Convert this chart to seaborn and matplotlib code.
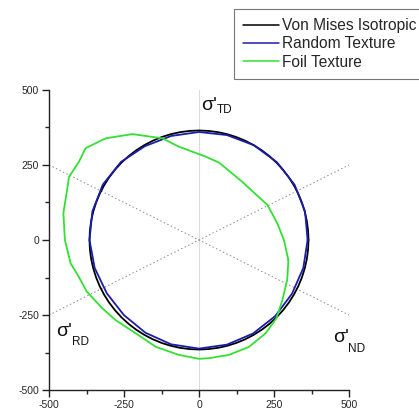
import numpy as np
import pandas as pd
import matplotlib
matplotlib.use("Agg")
import matplotlib.pyplot as plt
import seaborn as sns

# ---- data (pi-plane yield loci, MPa) ----
series_names = ["Von Mises Isotropic", "Random Texture", "Foil Texture"]
series_colors = ["#000000", "#1c1caa", "#33e033"]

# Von Mises isotropic locus: circle of constant radius
von_mises_radius = 365.0
von_mises_angles_deg = list(range(0, 360, 5))

# Random texture locus: radius read every 15 degrees
random_angles_deg = [0, 15, 30, 45, 60, 75, 90, 105, 120, 135, 150, 165,
                     180, 195, 210, 225, 240, 255, 270, 285, 300, 315, 330, 345]
random_radii = [362, 366, 368, 367, 365, 362, 360, 359, 361, 368, 370, 368,
                365, 360, 355, 354, 357, 360, 362, 361, 360, 359, 358, 360]

# Foil texture locus: points read counter-clockwise
foil_x = [298, 283, 261, 228, 144, 67, 22, -67, -122, -222, -311, -378, -400,
          -433, -452, -447, -428, -405, -374, -322, -278, -211, -144, -67, 0,
          33, 100, 167, 222, 258, 278, 294]
foil_y = [-67, 0, 56, 117, 194, 258, 278, 311, 339, 353, 339, 306, 261,
          211, 89, 0, -78, -115, -172, -228, -267, -311, -356, -383, -396,
          -394, -383, -356, -311, -261, -200, -133]

# Principal stress axes projected onto the plane
axis_ends_x = [-500, 500]
diag_up_y = [-250, 250]
diag_down_y = [250, -250]

tick_values = [-500, -250, 0, 250, 500]
minor_tick_values = [-375, -125, 125, 375]

# stress axis labels: subscript, anchor (x, y), subscript offset in pixels
axis_labels = [
    ("TD", 7, 433, 16, -3),
    ("RD", -477, -320, 16, -9),
    ("ND", 447, -340, 15, -10),
]


def closed(xs, ys):
    return list(xs) + [xs[0]], list(ys) + [ys[0]]


vm_t = np.deg2rad(von_mises_angles_deg)
vm_x, vm_y = closed(von_mises_radius * np.cos(vm_t), von_mises_radius * np.sin(vm_t))
rt_t = np.deg2rad(random_angles_deg)
rt_r = np.array(random_radii, dtype=float)
rt_x, rt_y = closed(rt_r * np.cos(rt_t), rt_r * np.sin(rt_t))
ft_x, ft_y = closed(foil_x, foil_y)

frames = []
for name, xs, ys in zip(series_names, [vm_x, rt_x, ft_x], [vm_y, rt_y, ft_y]):
    frames.append(pd.DataFrame({"x": xs, "y": ys, "series": name}))
df = pd.concat(frames, ignore_index=True)

# ---- styling ----
sns.set_style("ticks")
plt.rcParams["font.family"] = ["Liberation Sans", "DejaVu Sans"]
plt.rcParams["axes.unicode_minus"] = False

DPI = 100
PX = 72 / DPI  # points per pixel

fig = plt.figure(figsize=(4.19, 4.11), dpi=DPI)
ax = fig.add_axes([49 / 419, 21 / 411, 300 / 419, 300 / 411])

# reference axes
ax.plot([0, 0], [-500, 500], color="#dcdcdc", lw=0.8, zorder=1)
ax.plot(axis_ends_x, diag_up_y, color="#888888", lw=0.7, ls=(0, (1.5, 2.5)), zorder=1)
ax.plot(axis_ends_x, diag_down_y, color="#888888", lw=0.7, ls=(0, (1.5, 2.5)), zorder=1)

sns.lineplot(data=df, x="x", y="y", hue="series", hue_order=series_names,
             palette=series_colors, sort=False, estimator=None, units="series",
             lw=1.3, ax=ax, legend=True)

ax.set_xlim(-500, 500)
ax.set_ylim(-500, 500)
ax.set_xticks(tick_values)
ax.set_yticks(tick_values)
ax.set_xticks(minor_tick_values, minor=True)
ax.set_yticks(minor_tick_values, minor=True)
ax.set_xticklabels([str(v) for v in tick_values])
ax.set_yticklabels([str(v) for v in tick_values])
ax.set_xlabel("")
ax.set_ylabel("")
for side in ["top", "right"]:
    ax.spines[side].set_visible(False)
for side in ["left", "bottom"]:
    ax.spines[side].set_color("#222222")
    ax.spines[side].set_linewidth(1.0)
ax.tick_params(which="major", direction="out", length=5, width=1.0,
               color="#222222", labelsize=7.5, pad=2)
ax.tick_params(which="minor", direction="out", length=3, width=1.0, color="#222222")

for sub, x, y, dx, dy in axis_labels:
    ax.text(x, y, "σ'", fontsize=14, ha="left", va="baseline", color="#111111")
    ax.annotate(sub, xy=(x, y), xytext=(dx * PX, dy * PX), textcoords="offset points",
                fontsize=8.5, ha="left", va="baseline", color="#111111")

handles, labels = ax.get_legend_handles_labels()
ax.legend(handles, labels, loc="upper left",
          bbox_to_anchor=(234 / 419, 1 - 9 / 411), bbox_transform=fig.transFigure,
          frameon=True, fancybox=False, edgecolor="#777777", framealpha=1,
          fontsize=11.2, handlelength=2.3, handletextpad=0.2, labelspacing=0.2,
          borderpad=0.6, borderaxespad=0)
leg = ax.get_legend()
leg.get_frame().set_linewidth(0.8)
for line in leg.get_lines():
    line.set_linewidth(1.1)

fig.savefig("out.png", dpi=DPI)
